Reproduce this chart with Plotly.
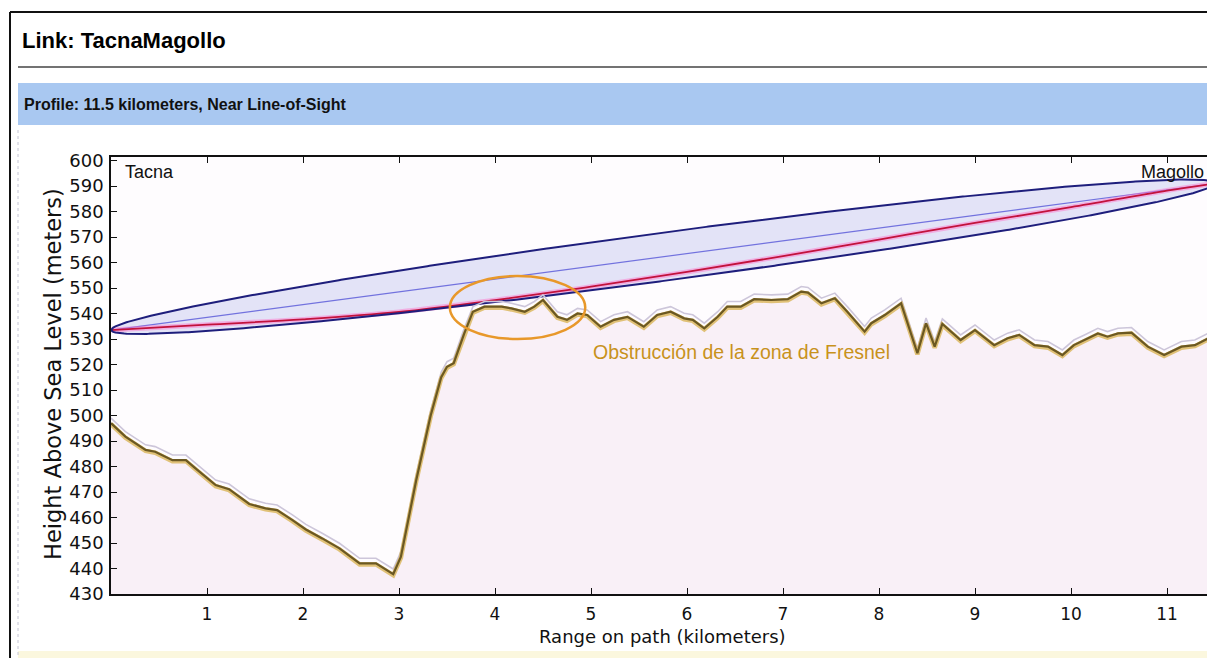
import numpy as np
import plotly.graph_objects as go

# ---------------- data ----------------
terrain_km = [0.00, 0.15, 0.36, 0.46, 0.64, 0.78, 0.88, 1.09, 1.23, 1.44, 1.61, 1.73, 1.89,
              2.03, 2.20, 2.38, 2.59, 2.76, 2.94, 3.02, 3.18, 3.33, 3.44, 3.50, 3.57, 3.68,
              3.77, 3.89, 4.07, 4.17, 4.31, 4.41, 4.50, 4.65, 4.75, 4.86, 4.96, 5.10, 5.24,
              5.38, 5.55, 5.69, 5.83, 5.97, 6.06, 6.18, 6.32, 6.42, 6.56, 6.70, 6.88, 7.05,
              7.19, 7.26, 7.40, 7.54, 7.67, 7.85, 7.92, 8.06, 8.23, 8.40, 8.49, 8.58, 8.66,
              8.85, 9.00, 9.20, 9.34, 9.46, 9.62, 9.76, 9.91, 10.03, 10.14, 10.28, 10.38,
              10.49, 10.63, 10.80, 10.97, 11.15, 11.29, 11.43, 11.50]
terrain_m = [497.0, 491.7, 486.5, 485.8, 482.5, 482.5, 479.3, 472.7, 471.1, 465.3, 463.6, 462.9, 459.0,
             455.3, 451.8, 447.9, 442.0, 442.0, 437.8, 444.6, 474.7, 500.0, 515.0, 519.1, 520.5, 532.2,
             540.7, 542.7, 542.7, 542.0, 540.7, 542.7, 545.3, 538.7, 537.5, 540.0, 539.4, 534.8, 537.5,
             538.7, 534.8, 539.4, 540.7, 538.1, 537.5, 534.2, 538.7, 542.7, 542.7, 545.6, 545.3, 545.6,
             548.6, 548.2, 544.0, 546.0, 540.7, 532.9, 536.2, 539.4, 544.0, 524.4, 536.2, 527.0, 535.9,
             529.6, 533.5, 527.6, 530.3, 531.6, 527.6, 527.0, 523.7, 527.6, 529.6, 532.2, 530.9,
             532.2, 532.5, 527.0, 523.7, 527.0, 527.6, 530.3, 531.0]

# red (earth-curvature adjusted) path line
red_km = [0, 1, 2, 3, 4, 5, 6, 7, 8, 9, 10, 11, 11.5]
red_m = [533.5, 535.6, 537.7, 540.6, 545.2, 550.5, 556.3, 562.5, 569.0, 575.5, 581.7, 588.2, 591.0]

# link geometry
path_km = 11.5
tacna_m = 533.5
magollo_m = 591.0
fresnel_mid_m = 9.5

site_names = ["Tacna", "Magollo"]
y_ticks = list(range(430, 601, 10))
x_ticks = list(range(1, 12))

# ---------------- layout helpers ----------------
W, H = 1207, 658
ML, MR, MT, MB = 111, 0, 157, 64
PW, PH = W - ML - MR, H - MT - MB


def pxx(x):
    return (x - ML) / PW


def pxy(y):
    return (H - MB - y) / PH


# Fresnel zone geometry from link endpoints
xs = np.linspace(0, path_km, 500)
los = tacna_m + (magollo_m - tacna_m) * xs / path_km
rad = fresnel_mid_m * np.sqrt(np.clip(xs * (path_km - xs), 0, None)) / (path_km / 2)
upper = los + rad
lower = los - rad

terr = np.array(terrain_m)

fig = go.Figure()

# terrain fill
fig.add_trace(go.Scatter(x=terrain_km, y=terrain_m, mode="lines", line=dict(width=0),
                         fill="tozeroy", fillcolor="#f9f0f7", hoverinfo="skip"))
# ellipse fill
fig.add_trace(go.Scatter(x=np.concatenate([xs, xs[::-1]]), y=np.concatenate([upper, lower[::-1]]),
                         mode="lines", line=dict(width=0), fill="toself", fillcolor="#e3e3f7",
                         hoverinfo="skip"))
# line of sight
fig.add_trace(go.Scatter(x=[0, path_km], y=[tacna_m, magollo_m], mode="lines",
                         line=dict(color="#7272de", width=1.2), hoverinfo="skip"))
# red path glow + line
fig.add_trace(go.Scatter(x=red_km, y=red_m, mode="lines",
                         line=dict(color="rgba(255,110,200,0.45)", width=5, shape="spline"), hoverinfo="skip"))
fig.add_trace(go.Scatter(x=red_km, y=red_m, mode="lines",
                         line=dict(color="#c2123c", width=1.8, shape="spline"), hoverinfo="skip"))
# ellipse edges
for edge in (upper, lower):
    fig.add_trace(go.Scatter(x=xs, y=edge, mode="lines", line=dict(color="#1e1e7c", width=2),
                             hoverinfo="skip"))
# terrain: light shadow, yellow halo, dark line
fig.add_trace(go.Scatter(x=terrain_km, y=terr + 2.0, mode="lines", line=dict(color="#cdc6da", width=1.6),
                         hoverinfo="skip"))
fig.add_trace(go.Scatter(x=terrain_km, y=terr - 0.4, mode="lines",
                         line=dict(color="rgba(214,172,64,0.7)", width=4.5), hoverinfo="skip"))
fig.add_trace(go.Scatter(x=terrain_km, y=terrain_m, mode="lines", line=dict(color="#6b5822", width=2.2),
                         hoverinfo="skip"))

shapes = [
    # page frame
    dict(type="line", xref="paper", yref="paper", x0=pxx(10), x1=pxx(1215), y0=pxy(12), y1=pxy(12),
         line=dict(color="#111", width=2)),
    dict(type="line", xref="paper", yref="paper", x0=pxx(10), x1=pxx(10), y0=pxy(12), y1=pxy(670),
         line=dict(color="#111", width=2)),
    dict(type="line", xref="paper", yref="paper", x0=pxx(18), x1=pxx(1215), y0=pxy(67), y1=pxy(67),
         line=dict(color="#444", width=1.5)),
    dict(type="rect", xref="paper", yref="paper", x0=pxx(18), x1=pxx(1215), y0=pxy(83), y1=pxy(125),
         fillcolor="#a9c8f1", line=dict(width=0), layer="below"),
    dict(type="line", xref="paper", yref="paper", x0=pxx(18), x1=pxx(18), y0=pxy(130), y1=pxy(660),
         line=dict(color="#c4c4d4", width=1, dash="dot")),
    dict(type="rect", xref="paper", yref="paper", x0=pxx(18), x1=pxx(1215), y0=pxy(651), y1=pxy(660),
         fillcolor="#fbf7de", line=dict(width=0), layer="below"),
    # highlighted obstruction
    dict(type="circle", xref="x", yref="y", x0=3.53, x1=4.94, y0=530.0, y1=554.7,
         line=dict(color="#e8982a", width=2.5), layer="above"),
]

sans = "Liberation Sans, Arial"
tickfont = "DejaVu Sans"

annotations = [
    dict(text="<b>Link: TacnaMagollo</b>", xref="paper", yref="paper", x=pxx(20), y=pxy(40),
         xanchor="left", yanchor="middle", showarrow=False, font=dict(family=sans, size=22, color="#000")),
    dict(text="<b>Profile: 11.5 kilometers, Near Line-of-Sight</b>", xref="paper", yref="paper",
         x=pxx(22), y=pxy(105), xanchor="left", yanchor="middle", showarrow=False,
         font=dict(family=sans, size=16, color="#111")),
    dict(text=site_names[0], xref="x", yref="y", x=0.12, y=595.5, xanchor="left", yanchor="middle",
         showarrow=False, font=dict(family=sans, size=18, color="#111")),
    dict(text=site_names[1], xref="x", yref="y", x=11.41, y=595.5, xanchor="right", yanchor="middle",
         showarrow=False, font=dict(family=sans, size=18, color="#111")),
    dict(text="Obstrucción de la zona de Fresnel", xref="x", yref="y", x=5.0, y=524.9,
         xanchor="left", yanchor="middle", showarrow=False,
         font=dict(family=sans, size=19.5, color="#c8921c")),
    dict(text="Height Above Sea Level (meters)", xref="paper", yref="paper", x=pxx(53), y=pxy(374),
         xanchor="center", yanchor="middle", textangle=-90, showarrow=False,
         font=dict(family="DejaVu Sans", size=22.5, color="#111")),
    dict(text="Range on path (kilometers)", xref="paper", yref="paper", x=pxx(662), y=pxy(636),
         xanchor="center", yanchor="middle", showarrow=False,
         font=dict(family=tickfont, size=18, color="#111")),
]

fig.update_layout(
    width=W, height=H,
    margin=dict(l=ML, r=MR, t=MT, b=MB, pad=0),
    paper_bgcolor="#ffffff",
    plot_bgcolor="#fefcfe",
    showlegend=False,
    shapes=shapes,
    annotations=annotations,
    xaxis=dict(range=[0, PW / 96.0], tickmode="array", tickvals=x_ticks, ticktext=[str(v) for v in x_ticks],
               ticks="inside", ticklen=6, tickwidth=1, tickcolor="#111", showline=True, linecolor="#111",
               linewidth=1.5, mirror="ticks", showgrid=False, zeroline=False,
               tickfont=dict(family=tickfont, size=17, color="#111"), ticklabelstandoff=4),
    yaxis=dict(range=[430, 430 + PH / 2.55], tickmode="array", tickvals=y_ticks,
               ticktext=[str(v) for v in y_ticks], ticks="inside", ticklen=6, tickwidth=1, tickcolor="#111",
               showline=True, linecolor="#111", linewidth=1.5, mirror=False, showgrid=False, zeroline=False,
               tickfont=dict(family=tickfont, size=18, color="#111"), ticklabelstandoff=2),
)

fig.write_html("out.html")
